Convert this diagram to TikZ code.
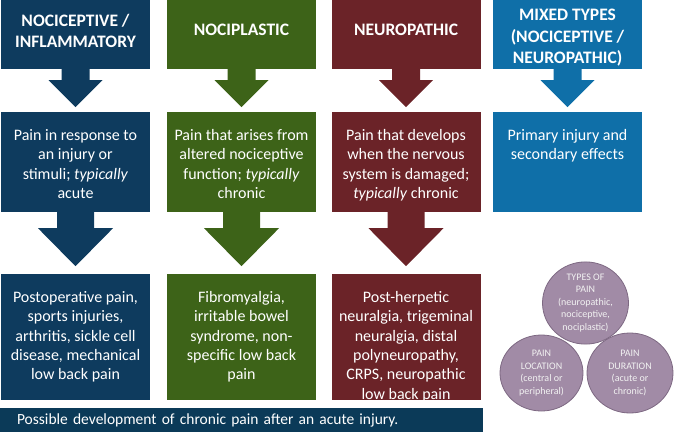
\documentclass[tikz,border=0pt]{standalone}
\usepackage{fontspec}
\setmainfont{Carlito}
\usetikzlibrary{shapes.geometric,positioning}

\definecolor{nocicol}{RGB}{14,59,94}
\definecolor{plascol}{RGB}{61,99,24}
\definecolor{neurcol}{RGB}{107,35,40}
\definecolor{mixcol}{RGB}{15,111,168}
\definecolor{barcol}{RGB}{11,58,88}
\definecolor{circcol}{RGB}{161,139,166}
\definecolor{circline}{RGB}{125,104,130}

% text of a box, first line set at a fixed depth from the top
\newcommand{\boxtext}[2]{\parbox[t][#1][t]{145pt}{\centering\rule{0pt}{28.5pt}#2}}
% block arrow under a node: colour, node, shaft half, head half, shaft length, head length
\newcommand{\blkarrow}[6]{\fill[#1] (#2.south) ++(-#3,0) -- ++(0,#5) -- ++(#3-#4,0) -- ++(#4,#6) -- ++(#4,-#6) -- ++(#3-#4,0) -- ++(0,-#5) -- cycle;}

\begin{document}
\begin{tikzpicture}[x=1pt,y=-1pt,
  headbox/.style={rectangle, inner sep=0pt, minimum width=149pt, minimum height=69pt},
  headtext/.style={text=white, align=center, inner sep=0pt, font=\fontsize{17.5}{21}\selectfont\bfseries},
  midbox/.style={rectangle, inner sep=0pt, minimum width=149pt, minimum height=100pt, text=white, font=\fontsize{16}{19.3}\selectfont},
  lowbox/.style={midbox, minimum height=126pt},
  circ/.style={ellipse, draw=circline, line width=0.8pt, fill=circcol, inner sep=0pt, text=white!95!black, align=center, font=\fontsize{10}{12.5}\selectfont}]
  \useasboundingbox (0,0) rectangle (680,439);

  \node[headbox, fill=nocicol, label={[headtext, yshift=3.5pt]center:NOCICEPTIVE /\\INFLAMMATORY}] (h1) at (75.5,34.5) {};
  \node[headbox, fill=plascol, label={[headtext, yshift=5pt]center:NOCIPLASTIC}] (h2) at (241.5,34.5) {};
  \node[headbox, fill=neurcol, label={[headtext, yshift=5pt]center:NEUROPATHIC}] (h3) at (406,34.5) {};
  \node[headbox, fill=mixcol, label={[headtext, yshift=-3.5pt, font=\fontsize{17.5}{21.5}\selectfont\bfseries]center:MIXED TYPES\\(NOCICEPTIVE /\\NEUROPATHIC)}] (h4) at (567.5,34.5) {};

  \node[midbox, fill=nocicol] (m1) at (75.5,162) {\boxtext{100pt}{Pain in response to\\an injury or\\stimuli; \textit{typically}\\acute}};
  \node[midbox, fill=plascol] (m2) at (241.5,162) {\boxtext{100pt}{Pain that arises from\\altered nociceptive\\function; \textit{typically}\\chronic}};
  \node[midbox, fill=neurcol] (m3) at (406,162) {\boxtext{100pt}{Pain that develops\\when the nervous\\system is damaged;\\\textit{typically} chronic}};
  \node[midbox, fill=mixcol] (m4) at (567.5,162) {\boxtext{100pt}{Primary injury and\\secondary effects}};

  \node[lowbox, fill=nocicol] (l1) at (75.5,337) {\boxtext{126pt}{Postoperative pain,\\sports injuries,\\arthritis, sickle cell\\disease, mechanical\\low back pain}};
  \node[lowbox, fill=plascol] (l2) at (241.5,337) {\boxtext{126pt}{Fibromyalgia,\\irritable bowel\\syndrome, non-\\specific low back\\pain}};
  \node[lowbox, fill=neurcol] (l3) at (406,337) {\boxtext{126pt}{Post-herpetic\\neuralgia, trigeminal\\neuralgia, distal\\polyneuropathy,\\CRPS, neuropathic\\low back pain}};

  \node[rectangle, fill=barcol, minimum width=483pt, minimum height=24pt, inner xsep=17pt, text width=449pt, align=left, text=white, font=\fontsize{15.5}{18}\selectfont] (bar) at (241.5,420) {Possible development of chronic pain after an acute injury.};

  % arrows between the rows
  \blkarrow{nocicol}{h1}{14}{27}{11}{27}
  \blkarrow{plascol}{h2}{14}{27}{11}{27}
  \blkarrow{neurcol}{h3}{14}{27}{11}{27}
  \blkarrow{mixcol}{h4}{14}{27}{11}{27}
  \blkarrow{nocicol}{m1}{18.5}{37.5}{16}{38}
  \blkarrow{plascol}{m2}{18.5}{37.5}{16}{38}
  \blkarrow{neurcol}{m3}{18.5}{37.5}{16}{38}

  % the three circles
  \node[circ, minimum width=86pt, minimum height=78pt] (c1) at (585.5,303) {TYPES OF\\PAIN\\(neuropathic,\\nociceptive,\\nociplastic)};
  \node[circ, minimum width=83pt, minimum height=76pt] (c2) at (541.5,373) {PAIN\\LOCATION\\(central or\\peripheral)};
  \node[circ, minimum width=86pt, minimum height=80pt] (c3) at (630,373) {PAIN\\DURATION\\(acute or\\chronic)};
\end{tikzpicture}
\end{document}
